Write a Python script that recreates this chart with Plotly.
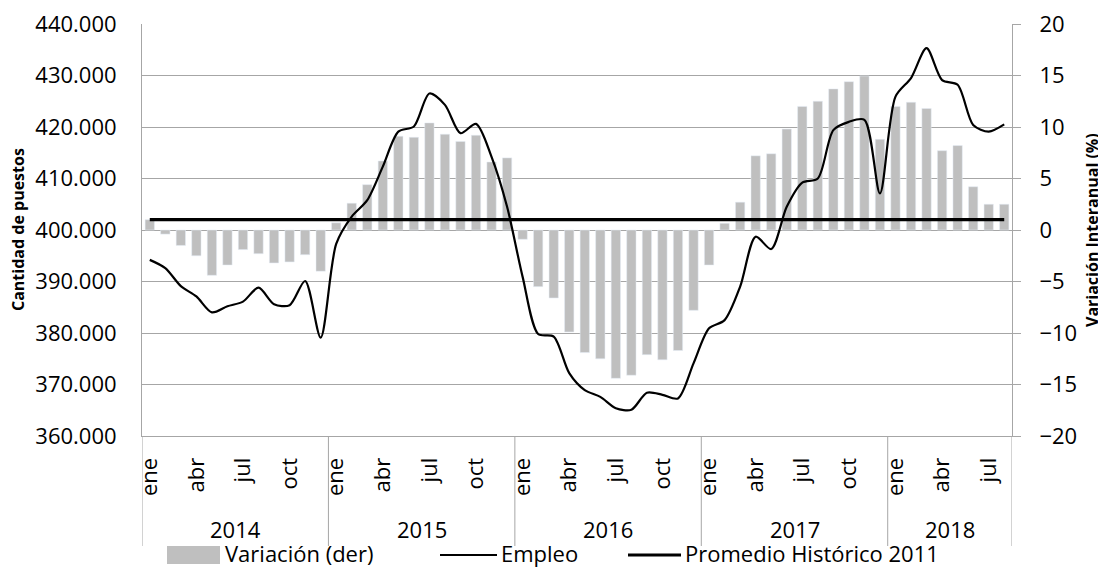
import plotly.graph_objects as go

years = ["2014", "2015", "2016", "2017", "2018"]
month_names = ["ene", "feb", "mar", "abr", "may", "jun", "jul", "ago", "sep", "oct", "nov", "dic"]
n_months = [12, 12, 12, 12, 8]

variacion = [
    1.0, -0.4, -1.5, -2.5, -4.4, -3.4, -1.9, -2.3, -3.2, -3.1, -2.4, -4.0,
    0.7, 2.6, 4.4, 6.7, 9.1, 9.0, 10.4, 9.3, 8.6, 9.2, 6.6, 7.0,
    -0.9, -5.5, -6.6, -9.9, -11.9, -12.5, -14.4, -14.1, -12.1, -12.6, -11.7, -7.8,
    -3.4, 0.65, 2.7, 7.2, 7.4, 9.8, 12.0, 12.5, 13.7, 14.4, 14.95, 8.8,
    12.0, 12.4, 11.8, 7.7, 8.2, 4.2, 2.5, 2.5,
]

empleo = [
    394200, 392600, 389100, 387100, 384000, 385200, 386100, 388800, 385600, 385400, 390100, 379100,
    397300, 402600, 405800, 412300, 419100, 420100, 426500, 424300, 418800, 420600, 414200, 404500,
    390900, 379800, 379300, 372200, 368900, 367600, 365400, 365100, 368400, 368000, 367300, 374100,
    380900, 382500, 389000, 398700, 396300, 404500, 409200, 410000, 419400, 421000, 421400, 407100,
    425900, 429500, 435300, 429100, 428200, 420400, 419100, 420500,
]

promedio_2011 = [402000] * 56

left_ticks = [360000, 370000, 380000, 390000, 400000, 410000, 420000, 430000, 440000]
right_ticks = [-20, -15, -10, -5, 0, 5, 10, 15, 20]
shown_months = ["ene", "abr", "jul", "oct"]

labels = []
for y, n in zip(years, n_months):
    for m in range(n):
        labels.append((y, month_names[m]))
xs = list(range(len(labels)))
tickvals = [i for i, (y, m) in enumerate(labels) if m in shown_months]
ticktext = [labels[i][1] for i in tickvals]

FONT = "Open Sans"
GRID = "#a6a6a6"

fig = go.Figure()
fig.add_trace(go.Bar(x=xs, y=variacion, name="Variación (der)", marker_color="#bfbfbf",
                     width=0.6, yaxis="y"))
fig.add_trace(go.Scatter(x=xs, y=empleo, name="Empleo", mode="lines",
                         line=dict(color="black", width=2.2, shape="spline", smoothing=0.8),
                         yaxis="y2"))
fig.add_trace(go.Scatter(x=xs, y=promedio_2011, name="Promedio Histórico 2011", mode="lines",
                         line=dict(color="black", width=3.2), yaxis="y2"))

H = 412.0
W = 870.0
def py(p):
    return (436 - p) / H
def px(p):
    return (p - 142) / W

shapes = []
starts = [0]
for n in n_months:
    starts.append(starts[-1] + n)
for s in starts:
    shapes.append(dict(type="line", xref="x", yref="paper", x0=s - 0.5, x1=s - 0.5,
                       y0=0, y1=py(546), line=dict(color=GRID, width=1)))
shapes.append(dict(type="rect", xref="paper", yref="paper", x0=px(167), x1=px(220),
                   y0=py(546), y1=py(564), fillcolor="#bfbfbf", line=dict(width=0)))
shapes.append(dict(type="line", xref="paper", yref="paper", x0=px(440), x1=px(497),
                   y0=py(555), y1=py(555), line=dict(color="black", width=2)))
shapes.append(dict(type="line", xref="paper", yref="paper", x0=px(628), x1=px(681),
                   y0=py(555), y1=py(555), line=dict(color="black", width=3.2)))

annotations = []
for y, s, n in zip(years, starts, n_months):
    annotations.append(dict(x=s + (n - 1) / 2, y=py(529), xref="x", yref="paper",
                            text=y, showarrow=False, xanchor="center", yanchor="middle",
                            font=dict(family=FONT, size=22, color="black")))
for t, xpos in [("Variación (der)", 223), ("Empleo", 499), ("Promedio Histórico 2011", 683)]:
    annotations.append(dict(x=px(xpos), y=py(553), xref="paper", yref="paper", text=t,
                            showarrow=False, xanchor="left", yanchor="middle",
                            font=dict(family=FONT, size=22, color="black")))
annotations.append(dict(x=px(18), y=0.5, xref="paper", yref="paper", text="<b>Cantidad de puestos</b>",
                        textangle=-90, showarrow=False, xanchor="center", yanchor="middle",
                        font=dict(family=FONT, size=16, color="black")))
annotations.append(dict(x=px(1092), y=0.5, xref="paper", yref="paper", text="<b>Variación Interanual (%)</b>",
                        textangle=-90, showarrow=False, xanchor="center", yanchor="middle",
                        font=dict(family=FONT, size=16, color="black")))

# page body has an 8px margin: size the figure so the plot area lands where the reference has it
fig.update_layout(
    width=1098, height=559,
    margin=dict(l=134, r=94, t=16, b=131, autoexpand=False),
    plot_bgcolor="white", paper_bgcolor="white",
    separators=",.",
    showlegend=False,
    bargap=0.4,
    font=dict(family=FONT, size=22, color="black"),
    xaxis=dict(range=[-0.5, len(xs) - 0.5], tickvals=tickvals, ticktext=ticktext, tickangle=-90,
               showgrid=False, zeroline=False, showline=True, linecolor=GRID, linewidth=1,
               ticks="", ticklabelstandoff=12, tickfont=dict(family=FONT, size=22)),
    yaxis=dict(side="right", range=[-20, 20], tickvals=right_ticks, showgrid=True, gridcolor=GRID,
               gridwidth=1, zeroline=False, showline=True, linecolor=GRID, linewidth=1,
               ticks="outside", ticklen=8, tickcolor=GRID, ticklabelstandoff=14,
               ticklabeloverflow="allow", tickfont=dict(family=FONT, size=22)),
    yaxis2=dict(side="left", overlaying="y", range=[360000, 440000], tickvals=left_ticks,
                tickformat=",d", showgrid=False, zeroline=False, showline=True, linecolor=GRID,
                linewidth=1, ticks="", ticklabelstandoff=20, ticklabeloverflow="allow",
                tickfont=dict(family=FONT, size=22)),
    shapes=shapes,
    annotations=annotations,
)

fig.write_html("out.html")
